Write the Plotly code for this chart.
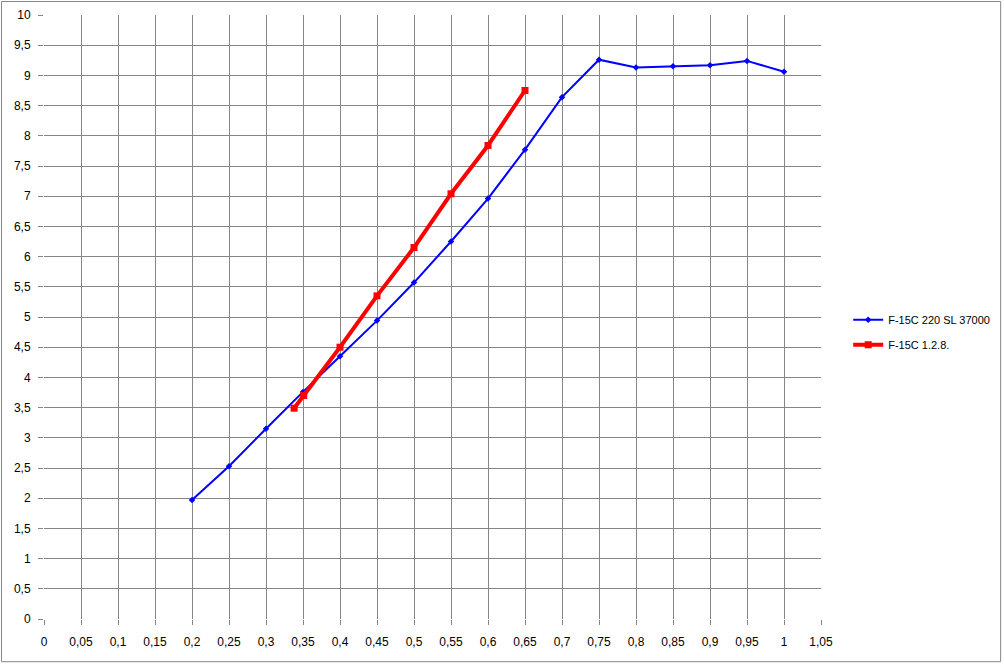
import plotly.graph_objects as go

blue_name = "F-15C 220 SL 37000"
blue_x = [0.2, 0.25, 0.3, 0.35, 0.4, 0.45, 0.5, 0.55, 0.6, 0.65, 0.7, 0.75, 0.8, 0.85, 0.9, 0.95, 1.0]
blue_y = [1.97, 2.53, 3.15, 3.76, 4.35, 4.94, 5.57, 6.25, 6.96, 7.77, 8.64, 9.26, 9.13, 9.15, 9.17, 9.24, 9.06]

red_name = "F-15C 1.2.8."
red_x = [0.338, 0.351, 0.4, 0.45, 0.5, 0.55, 0.6, 0.65]
red_y = [3.49, 3.70, 4.50, 5.35, 6.15, 7.04, 7.84, 8.75]

x_ticks = [round(i * 0.05, 2) for i in range(22)]
y_ticks = [i * 0.5 for i in range(21)]

fig = go.Figure()
fig.add_trace(go.Scatter(
    x=blue_x, y=blue_y, name=blue_name, mode="lines+markers",
    legendgroup="a",
    line=dict(color="#0000FF", width=2),
    marker=dict(symbol="diamond", size=5, color="#0000FF"),
))
fig.add_trace(go.Scatter(
    x=red_x, y=red_y, name=red_name, mode="lines+markers",
    legendgroup="b",
    line=dict(color="#FF0000", width=4),
    marker=dict(symbol="square", size=7, color="#FF0000"),
))

axis_common = dict(
    showgrid=True, gridcolor="#868686", gridwidth=1,
    zeroline=False, showline=False, automargin=False,
    ticks="outside", ticklen=5, tickcolor="#868686",
    tickfont=dict(family="Liberation Sans", size=12, color="#000000"),
)
fig.update_xaxes(range=[0, 1.05], tickvals=x_ticks, ticklabelstandoff=7, **axis_common)
fig.update_yaxes(range=[0, 10], tickvals=y_ticks, ticklabelstandoff=5, **axis_common)

fig.update_layout(
    width=1004, height=665,
    margin=dict(l=44, r=183, t=15, b=46, autoexpand=False),
    paper_bgcolor="white", plot_bgcolor="white",
    separators=", ",
    showlegend=True,
    legend=dict(
        x=1.035, y=0.4746, xanchor="left", yanchor="middle",
        font=dict(family="Liberation Sans", size=11, color="#000000"),
        bgcolor="rgba(0,0,0,0)", tracegroupgap=6,
    ),
    shapes=[dict(
        type="rect", xref="paper", yref="paper",
        x0=-0.0547, x1=1.2312, y0=-0.0707, y1=1.0223,
        line=dict(color="#868686", width=1), layer="below",
    )],
)

fig.write_html(
    "out.html",
    config={"displayModeBar": False},
    post_script="document.body.style.margin='0px';",
)
